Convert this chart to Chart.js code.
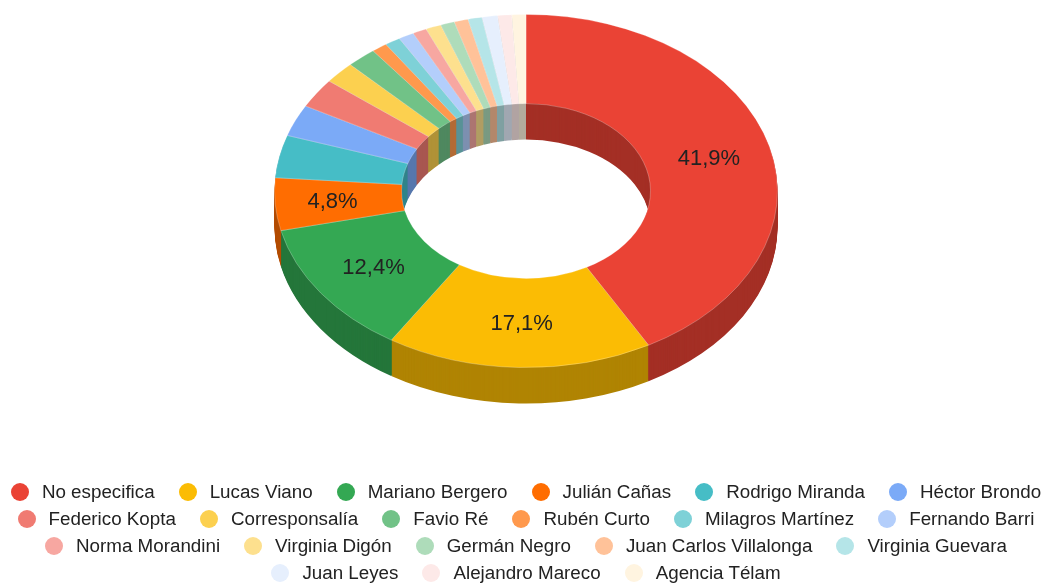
<!DOCTYPE html>
<html>
<head>
<meta charset="utf-8">
<title>Donut</title>
<script src="https://cdn.jsdelivr.net/npm/chart.js@4/dist/chart.umd.js"></script>
<style>
    body { margin: 0; background: #fff; width: 1046px; height: 583px; overflow: hidden; position: relative; }
    #pie_chart { position: absolute; left: 0; top: 0; }
    #legend { position: absolute; left: 3px; top: 478px; width: 1046px; display: flex; flex-wrap: wrap; justify-content: center; column-gap: 24px; font: 18.8px "Liberation Sans", Arial, sans-serif; color: #222; }
    #legend div { display: flex; align-items: center; height: 27px; white-space: nowrap; }
    #legend i { width: 18px; height: 18px; border-radius: 50%; margin-right: 13px; }
</style>
</head>
<body>
<canvas id="pie_chart" width="1046" height="583"></canvas>
<div id="legend"></div>
<script>
var categories = ["No especifica", "Lucas Viano", "Mariano Bergero", "Julián Cañas", "Rodrigo Miranda", "Héctor Brondo",
    "Federico Kopta", "Corresponsalía", "Favio Ré", "Rubén Curto", "Milagros Martínez", "Fernando Barri",
    "Norma Morandini", "Virginia Digón", "Germán Negro", "Juan Carlos Villalonga", "Virginia Guevara",
    "Juan Leyes", "Alejandro Mareco", "Agencia Télam"];
var shares = [41.9, 17.1, 12.4, 4.8, 3.9, 2.9, 2.7, 2.0, 1.9, 1.0, 1.0, 1.0, 0.9, 1.0, 0.9, 0.9, 0.9, 1.0, 0.9, 0.9];

var palette = ["#ea4335", "#fbbc04", "#34a853", "#ff6d01", "#46bdc6", "#7baaf7", "#f07b72", "#fcd04f", "#71c287", "#ff994d",
    "#7ed1d7", "#b3cefb", "#f7a7a1", "#fde08e", "#aedcba", "#ffc299", "#b5e5e8", "#e6effd", "#fde9e8", "#fff4e0"];

var TILT = 0.702;      // how flat the ring looks
var CENTER_Y = 191;    // centre of the top face on screen
var DEPTH = 36;        // height of the side wall
var LABEL_MIN = 4.5;   // smaller slices get no percentage
var NARROW_SHIFT = -6; // the 4,8% label sits a little outwards

function darker(hex) {
    var n = parseInt(hex.slice(1), 16);
    return "rgb(" + Math.round((n >> 16) * 0.7) + "," + Math.round(((n >> 8) & 255) * 0.7) + "," + Math.round((n & 255) * 0.7) + ")";
}

function tilt(ctx, y) {
    ctx.translate(0, CENTER_Y);
    ctx.scale(1, TILT);
    ctx.translate(0, -y);
}

var ring3d = {
    id: 'ring3d',
    beforeDatasetsDraw: function (chart) {
        var ctx = chart.ctx;
        var arcs = chart.getDatasetMeta(0).data;
        for (var d = DEPTH; d >= 1; d--) {
            ctx.save();
            ctx.translate(0, d);
            tilt(ctx, arcs[0].y);
            arcs.forEach(function (a, i) {
                ctx.beginPath();
                ctx.arc(a.x, a.y, a.outerRadius, a.startAngle, a.endAngle);
                ctx.arc(a.x, a.y, a.innerRadius, a.endAngle, a.startAngle, true);
                ctx.closePath();
                ctx.fillStyle = darker(palette[i]);
                ctx.fill();
            });
            ctx.restore();
        }
        ctx.save();
        tilt(ctx, arcs[0].y);
    },
    afterDatasetsDraw: function (chart) {
        var ctx = chart.ctx;
        ctx.restore();
        var arcs = chart.getDatasetMeta(0).data;
        ctx.save();
        ctx.font = '22px "Liberation Sans", Arial, sans-serif';
        ctx.fillStyle = "#222";
        ctx.textAlign = "center";
        ctx.textBaseline = "middle";
        arcs.forEach(function (a, i) {
            if (shares[i] < LABEL_MIN) return;
            var p = a.getCenterPoint();
            var shift = shares[i] < 10 ? NARROW_SHIFT : 1;
            ctx.fillText(shares[i].toFixed(1).replace(".", ",") + "%", p.x + shift, CENTER_Y + 1 + (p.y - a.y) * TILT);
        });
        ctx.restore();
    }
};

var htmlLegend = {
    id: 'htmlLegend',
    afterUpdate: function (chart) {
        var box = document.getElementById("legend");
        box.innerHTML = "";
        chart.options.plugins.legend.labels.generateLabels(chart).forEach(function (item) {
            var row = document.createElement("div");
            var dot = document.createElement("i");
            dot.style.background = item.fillStyle;
            row.appendChild(dot);
            row.appendChild(document.createTextNode(item.text));
            box.appendChild(row);
        });
    }
};

new Chart(document.getElementById("pie_chart").getContext("2d"), {
    type: 'doughnut',
    data: {
        labels: categories,
        datasets: [{
            data: shares,
            backgroundColor: palette,
            borderColor: 'rgba(255, 255, 255, 0.3)',
            borderWidth: 1
        }]
    },
    options: {
        responsive: false,
        animation: false,
        cutout: '49.5%',
        layout: { padding: { left: 6, top: 40, bottom: 39 } },
        plugins: {
            legend: { display: false },
            tooltip: { enabled: false }
        }
    },
    plugins: [ring3d, htmlLegend]
});
</script>
</body>
</html>
